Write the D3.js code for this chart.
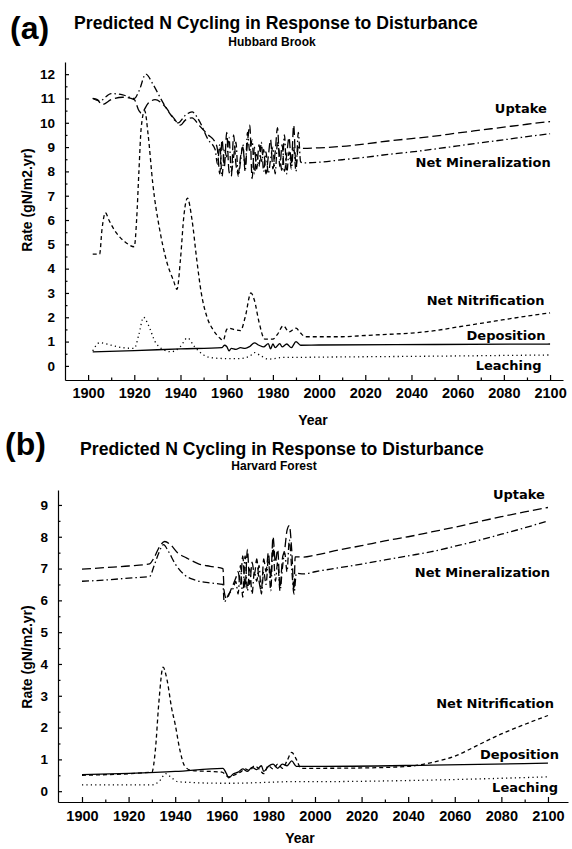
<!DOCTYPE html>
<html><head><meta charset="utf-8">
<script src="https://cdn.jsdelivr.net/npm/d3@7"></script>
<style>body{margin:0;background:#fff}svg{display:block}</style>
</head><body><svg id="c" width="572" height="849"></svg>
<script>
// ---------- DATA (year, gN/m2.yr) ----------
const yTicksA = d3.range(0, 13);
const yTicksB = d3.range(0, 10);
const xTicks = [1900, 1920, 1940, 1960, 1980, 2000, 2020, 2040, 2060, 2080, 2100];

// Panel (a) Hubbard Brook
const uptakeA = [[1902,11.0],[1904,10.95],[1906,10.75],[1910,10.95],[1915,11.05],[1920,10.95],[1922,10.5],[1923,10.4],[1926,10.8],[1929,10.95],[1933,10.7],[1937,10.2],[1940,9.9],[1942,10.1],[1945,10.2],[1948,9.9],[1952,9.5],
 [1955,9.2],[1956,8.9],[1957,7.9],[1958,9.3],[1959,8.2],[1960,9.6],[1961,8.0],[1962,7.8],[1963,9.5],[1964,8.3],[1965,7.9],[1966,8.6],[1967,9.0],[1968,8.2],[1969,9.2],[1970,9.9],[1971,7.7],[1972,9.0],[1973,8.1],[1974,9.1],[1975,8.4],[1976,8.9],[1977,7.9],[1978,8.6],[1979,9.3],[1980,8.1],[1981,8.8],[1982,9.8],[1983,8.2],[1984,9.1],[1985,8.0],[1986,8.7],[1987,9.4],[1988,8.3],[1989,9.9],[1990,8.2],[1991,9.0],[1992,8.95],
 [2000,8.97],[2010,9.03],[2020,9.13],[2030,9.25],[2040,9.35],[2050,9.45],[2060,9.58],[2070,9.7],[2080,9.82],[2090,9.94],[2100,10.05]];
const netMinA = [[1902,11.0],[1905,10.9],[1910,11.2],[1915,11.15],[1920,11.0],[1922,11.3],[1925,12.0],[1928,11.6],[1932,10.9],[1936,10.3],[1939,10.0],[1942,10.3],[1945,10.45],[1948,10.1],[1952,9.3],
 [1955,8.9],[1956,8.3],[1957,9.1],[1958,7.8],[1959,8.9],[1960,8.6],[1961,9.4],[1962,8.0],[1963,8.6],[1964,9.2],[1965,7.8],[1966,8.4],[1967,9.1],[1968,8.0],[1969,9.6],[1970,8.8],[1971,9.3],[1972,7.9],[1973,8.7],[1974,8.2],[1975,9.2],[1976,8.0],[1977,8.8],[1978,7.9],[1979,8.5],[1980,9.0],[1981,7.9],[1982,9.2],[1983,8.6],[1984,8.0],[1985,9.5],[1986,7.9],[1987,8.8],[1988,8.1],[1989,9.0],[1990,8.0],[1991,9.6],[1992,8.4],[1993,8.35],
 [2000,8.38],[2010,8.48],[2020,8.58],[2030,8.7],[2040,8.8],[2050,8.92],[2060,9.05],[2070,9.18],[2080,9.3],[2090,9.43],[2100,9.55]];
const netNitA = [[1902,4.6],[1905,4.6],[1906,5.6],[1907.5,6.3],[1909,6.0],[1912,5.5],[1916,5.1],[1920,4.9],[1921,6.0],[1922,8.0],[1923,9.8],[1924.5,10.5],[1926,9.5],[1928,7.5],[1931,5.6],[1934,4.3],[1937,3.5],[1938.5,3.15],[1940,4.4],[1941.5,6.2],[1943,6.9],[1945,6.0],[1947,4.4],[1949,3.0],[1951.5,2.0],[1954,1.5],[1957,1.15],[1958.5,1.05],[1960,1.5],[1961,1.55],[1963,1.5],[1966,1.45],[1968,2.0],[1970.5,3.0],[1972,2.7],[1974,1.8],[1976.5,1.1],[1980,1.1],[1982,1.3],[1984.5,1.65],[1987,1.4],[1990,1.55],[1992,1.35],[1994,1.2],
 [2000,1.2],[2010,1.2],[2020,1.25],[2030,1.3],[2040,1.35],[2050,1.45],[2060,1.6],[2070,1.75],[2080,1.9],[2090,2.05],[2100,2.18]];
const depositionA = [[1902,0.58],[1920,0.63],[1940,0.7],[1958,0.75],[1959,0.85],[1960,0.8],[1961,0.62],[1962,0.72],[1964,0.68],[1966,0.75],[1968,0.72],[1970,0.8],[1972,0.95],[1974,0.85],[1976,0.78],[1978,0.92],[1979,0.7],[1980,0.9],[1981,0.75],[1983,0.92],[1984,0.78],[1986,0.9],[1988,0.75],[1990,1.0],[1992,0.85],[2000,0.86],[2050,0.88],[2100,0.9]];
const leachingA = [[1902,0.62],[1905,0.95],[1910,0.85],[1915,0.75],[1920,0.72],[1922,1.3],[1924,2.0],[1926,1.7],[1929,1.0],[1932,0.7],[1936,0.58],[1940,0.8],[1943,1.15],[1946,0.8],[1950,0.45],[1954,0.33],[1960,0.3],[1965,0.3],[1970,0.4],[1972,0.55],[1975,0.4],[1978,0.28],[1985,0.35],[1990,0.35],[2000,0.36],[2050,0.4],[2100,0.45]];

// Panel (b) Harvard Forest
const uptakeB = [[1900,6.98],[1910,7.03],[1920,7.08],[1929,7.15],[1931,7.35],[1933,7.65],[1935.5,7.85],[1938,7.75],[1941,7.5],[1945,7.33],[1950,7.15],[1955,7.07],[1960.5,7.0],[1961,6.3],[1962,6.05],[1964,6.35],[1966,6.7],[1967,6.9],[1968,6.5],[1969,7.4],[1970,6.4],[1971,7.6],[1972,6.5],[1973,7.2],[1974,6.8],[1975,7.3],[1976,6.6],[1977,6.3],[1978,7.3],[1979,6.9],[1980,7.5],[1981,6.7],[1982,8.0],[1983,7.2],[1984,7.6],[1985,6.4],[1986,7.3],[1987,7.6],[1988,8.2],[1989,8.35],[1990,7.6],[1991,6.3],[1991.5,7.37],
 [1995,7.36],[2000,7.42],[2010,7.58],[2020,7.72],[2030,7.87],[2040,8.0],[2050,8.15],[2060,8.3],[2070,8.47],[2080,8.63],[2090,8.78],[2100,8.92]];
const netMinB = [[1900,6.6],[1910,6.64],[1920,6.7],[1929,6.75],[1931,7.1],[1933,7.5],[1935,7.75],[1937,7.55],[1940,7.15],[1944,6.8],[1948,6.65],[1955,6.55],[1960.5,6.5],[1961,5.95],[1963,6.2],[1965,6.4],[1966,6.6],[1967,6.2],[1968,7.1],[1969,6.1],[1970,7.4],[1971,6.3],[1972,7.0],[1973,6.2],[1974,6.9],[1975,6.6],[1976,7.1],[1977,6.2],[1978,6.9],[1979,6.5],[1980,7.3],[1981,6.3],[1982,7.7],[1983,6.6],[1984,7.2],[1985,6.3],[1986,7.0],[1987,7.5],[1988,6.9],[1989,7.9],[1990,7.0],[1991,6.2],[1992,6.85],
 [1995,6.83],[2000,6.9],[2010,7.02],[2020,7.14],[2030,7.27],[2040,7.4],[2050,7.53],[2060,7.7],[2070,7.88],[2080,8.08],[2090,8.28],[2100,8.5]];
const netNitB = [[1900,0.5],[1930,0.6],[1931.5,1.3],[1933,2.8],[1934.8,3.9],[1936.5,3.5],[1938.5,2.6],[1940,2.1],[1942,1.3],[1944,0.8],[1947,0.65],[1955,0.62],[1960,0.6],[1963,0.45],[1965,0.5],[1968,0.6],[1970,0.7],[1972,0.65],[1974,0.8],[1976,0.7],[1978,0.55],[1980,0.8],[1982,0.7],[1984,0.85],[1986,0.72],[1988,0.95],[1990,1.22],[1992,1.0],[1994,0.72],
 [2000,0.72],[2020,0.73],[2040,0.78],[2050,0.9],[2060,1.1],[2070,1.45],[2080,1.8],[2090,2.1],[2100,2.38]];
const depositionB = [[1900,0.52],[1920,0.56],[1940,0.62],[1960.5,0.72],[1962,0.55],[1963,0.42],[1965,0.55],[1967,0.6],[1969,0.7],[1971,0.62],[1973,0.75],[1975,0.68],[1977,0.8],[1978,0.62],[1980,0.78],[1982,0.85],[1984,0.72],[1986,0.85],[1988,0.8],[1990,0.95],[1992,0.78],[2000,0.78],[2050,0.82],[2100,0.88]];
const leachingB = [[1900,0.2],[1930,0.2],[1933,0.3],[1936,0.55],[1938,0.45],[1941,0.3],[1945,0.28],[1960,0.25],[1965,0.25],[1980,0.28],[1990,0.3],[2000,0.3],[2050,0.35],[2100,0.45]];

const seriesNames = ["Uptake", "Net Mineralization", "Net Nitrification", "Deposition", "Leaching"];

// ---------- STYLES ----------
const dashes = {
  "Uptake": "9,4",
  "Net Mineralization": "7,3,1.5,3",
  "Net Nitrification": "4,3",
  "Deposition": null,
  "Leaching": "1.2,3.2"
};

const svg = d3.select("#c");

function panel(cfg) {
  const g = svg.append("g");
  const x = d3.scaleLinear().domain(cfg.xDom).range(cfg.xRange);
  const y = d3.scaleLinear().domain(cfg.yDom).range(cfg.yRange);
  const font = "Liberation Sans, Arial, sans-serif";

  // titles
  g.append("text").attr("x", cfg.tag[0]).attr("y", cfg.tag[1]).text(cfg.tagText)
    .attr("font-family", font).attr("font-weight", "bold").attr("font-size", 32);
  g.append("text").attr("x", cfg.title[0]).attr("y", cfg.title[1]).attr("text-anchor", "middle")
    .text("Predicted N Cycling in Response to Disturbance")
    .attr("font-family", font).attr("font-weight", "bold").attr("font-size", 17.6);
  g.append("text").attr("x", cfg.sub[0]).attr("y", cfg.sub[1]).attr("text-anchor", "middle")
    .text(cfg.subText)
    .attr("font-family", font).attr("font-weight", "bold").attr("font-size", 12);

  // y axis
  const ya = g.append("g").attr("transform", `translate(${cfg.xRange[0]},0)`)
    .call(d3.axisLeft(y).tickValues(cfg.yTicks).tickSize(-4).tickSizeOuter(0).tickPadding(10).tickFormat(d3.format("d")));
  g.append("g").attr("transform", `translate(${cfg.xRange[0]},0)`)
    .call(d3.axisLeft(y).tickValues(cfg.yTicks.map(d => d + 0.5).filter(d => d < cfg.yDom[1])).tickSize(-2.5).tickSizeOuter(0).tickFormat(""))
    .select(".domain").remove();
  // x axis
  const xa = g.append("g").attr("transform", `translate(0,${cfg.yRange[0]})`)
    .call(d3.axisBottom(x).tickValues(xTicks).tickSize(-5).tickSizeOuter(0).tickPadding(cfg.xPad).tickFormat(d3.format("d")));
  g.append("g").attr("transform", `translate(0,${cfg.yRange[0]})`)
    .call(d3.axisBottom(x).tickValues(xTicks.map(d => d + 10).filter(d => d < 2100)).tickSize(-2.5).tickSizeOuter(0).tickFormat(""))
    .select(".domain").remove();
  g.selectAll(".tick line, .domain").attr("stroke", "#000").attr("stroke-width", 1.2);
  ya.selectAll("text").attr("font-family", font).attr("font-weight", "bold").attr("font-size", 13.5).attr("fill", "#000");
  xa.selectAll("text").attr("font-family", font).attr("font-weight", "bold").attr("font-size", 14.5).attr("fill", "#000");

  // axis titles
  g.append("text").attr("transform", `translate(${cfg.yLab[0]},${cfg.yLab[1]}) rotate(-90)`)
    .attr("text-anchor", "middle").text("Rate (gN/m2.yr)")
    .attr("font-family", font).attr("font-weight", "bold").attr("font-size", 14);
  g.append("text").attr("x", cfg.xLab[0]).attr("y", cfg.xLab[1]).attr("text-anchor", "middle").text("Year")
    .attr("font-family", font).attr("font-weight", "bold").attr("font-size", 14);

  // lines
  const line = d3.line().x(d => x(d[0])).y(d => y(d[1])).curve(d3.curveMonotoneX);
  cfg.series.forEach((s, i) => {
    const name = seriesNames[i];
    const p = g.append("path").datum(s).attr("d", line)
      .attr("fill", "none").attr("stroke", "#000").attr("stroke-width", 1.3);
    if (dashes[name]) p.attr("stroke-dasharray", dashes[name]);
  });

  // series labels
  cfg.labels.forEach((l, i) => {
    g.append("text").attr("x", x(l[0])).attr("y", y(l[1])).attr("text-anchor", "end")
      .text(seriesNames[i])
      .attr("font-family", "DejaVu Sans, sans-serif").attr("font-weight", "bold").attr("font-size", 13);
  });
}

panel({
  xDom: [1890, 2105.6], xRange: [65, 563],
  yDom: [-0.58, 12.5], yRange: [380, 62],
  yTicks: yTicksA, xPad: 8,
  tag: [10, 39], tagText: "(a)",
  title: [276, 29], sub: [272, 46], subText: "Hubbard Brook",
  yLab: [32, 200], xLab: [313, 425],
  series: [uptakeA, netMinA, netNitA, depositionA, leachingA],
  labels: [[2098.6, 10.4], [2100.3, 8.2], [2097.6, 2.5], [2098, 1.07], [2096.3, -0.16]]
});

panel({
  xDom: [1889.7, 2108.6], xRange: [58, 568],
  yDom: [-0.34, 9.47], yRange: [802, 490],
  yTicks: yTicksB, xPad: 9,
  tag: [5, 455], tagText: "(b)",
  title: [282, 455], sub: [274, 470], subText: "Harvard Forest",
  yLab: [32, 657], xLab: [300, 843],
  series: [uptakeB, netMinB, netNitB, depositionB, leachingB],
  labels: [[2098.7, 9.2], [2100.9, 6.74], [2102.6, 2.63], [2104.7, 1.0], [2104.3, -0.03]]
});
</script></body></html>
